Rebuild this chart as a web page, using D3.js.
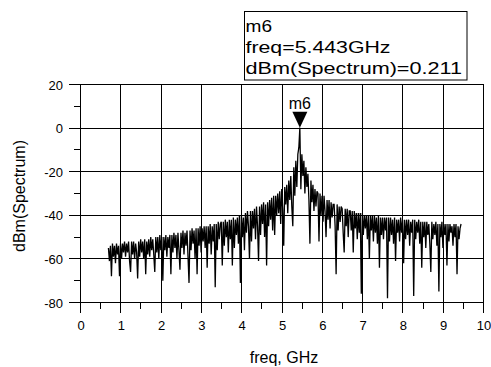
<!DOCTYPE html>
<html>
<head>
<meta charset="utf-8">
<script src="https://cdn.jsdelivr.net/npm/d3@7"></script>
<style>
  html, body { margin: 0; padding: 0; background: #fff; }
  svg { display: block; font-family: "Liberation Sans", Arial, sans-serif; }
</style>
</head>
<body>
<script>
// Axis ticks
const freqTicks = [0, 1, 2, 3, 4, 5, 6, 7, 8, 9, 10];
const freqMinor = [0.5, 1.5, 2.5, 3.5, 4.5, 5.5, 6.5, 7.5, 8.5, 9.5];
const dbTicks = [-80, -60, -40, -20, 0, 20];
const dbMinor = [-70, -50, -30, -10, 10];

// Spectrum sampling: first frequency and step (GHz)
const freqStart = 0.693;
const freqStep = 0.025;

// dBm(Spectrum) values, one per sample
const spectrum = [
  -55, -61, -54, -68, -53, -59, -54, -62,
  -53, -58, -54, -68, -53, -60, -53, -57,
  -52, -59, -53, -57, -52, -61, -66, -52,
  -58, -52, -60, -53, -57, -69, -52, -59,
  -51, -57, -52, -60, -51, -67, -52, -58,
  -51, -59, -50, -56, -51, -58, -66, -50,
  -57, -50, -60, -49, -56, -50, -70, -50,
  -56, -49, -59, -50, -55, -49, -67, -49,
  -57, -48, -55, -49, -60, -48, -56, -65,
  -48, -55, -47, -58, -48, -54, -47, -59,
  -71, -47, -56, -46, -53, -47, -60, -46,
  -67, -46, -54, -45, -57, -46, -52, -45,
  -55, -45, -64, -45, -53, -44, -58, -45,
  -52, -44, -73, -44, -56, -43, -51, -44,
  -43, -63, -43, -54, -42, -50, -43, -57,
  -42, -51, -42, -63, -41, -55, -42, -49,
  -41, -53, -40, -71, -40, -50, -41, -56,
  -39, -48, -38, -45, -60, -38, -52, -38,
  -46, -37, -51, -36, -45, -61, -36, -49,
  -35, -44, -34, -50, -35, -63, -34, -45,
  -33, -42, -32, -47, -31, -49, -31, -40,
  -30, -39, -29, -44, -28, -37, -54, -27,
  -35, -26, -39, -24, -33, -22, -36, -45,
  -18, -31, -15, -27, -12, -9, 0.211, -28,
  -12, -22, -15, -30, -18, -27, -21, -33,
  -53, -24, -34, -26, -38, -28, -36, -29,
  -30, -52, -30, -40, -31, -43, -31, -38,
  -50, -33, -42, -33, -46, -34, -41, -35,
  -35, -45, -67, -35, -47, -36, -43, -36,
  -37, -48, -57, -37, -45, -37, -50, -38,
  -38, -47, -38, -57, -38, -46, -39, -51,
  -39, -48, -39, -76, -39, -49, -40, -46,
  -40, -51, -40, -60, -40, -47, -40, -52,
  -40, -48, -41, -53, -40, -64, -41, -49,
  -41, -51, -41, -47, -41, -78, -41, -52,
  -41, -49, -42, -53, -41, -61, -42, -48,
  -42, -52, -41, -48, -42, -62, -42, -51,
  -42, -49, -42, -54, -43, -48, -42, -77,
  -42, -51, -43, -48, -42, -53, -43, -64,
  -43, -50, -43, -55, -43, -49, -44, -53,
  -66, -43, -51, -44, -49, -43, -54, -44,
  -75, -44, -50, -43, -55, -44, -49, -44,
  -63, -44, -52, -44, -48, -45, -54, -44,
  -50, -44, -67, -45, -51, -46, -44
];

// Marker
const markerName = "m6";
const markerFreq = 5.443;
const markerValue = 0.211;
const markerLines = ["m6", "freq=5.443GHz", "dBm(Spectrum)=0.211"];

const W = 491, H = 367;
const svg = d3.select("body").append("svg")
  .attr("width", W)
  .attr("height", H);

const x = d3.scaleLinear().domain([0, 10]).range([80.5, 483.5]);
const y = d3.scaleLinear().domain([-80, 20]).range([302.5, 84.5]);

// Grid
const grid = svg.append("g")
  .attr("stroke", "#000")
  .attr("stroke-width", 1)
  .attr("shape-rendering", "crispEdges");

grid.selectAll(".vgrid")
  .data(freqTicks)
  .enter()
  .append("line")
  .attr("x1", d => x(d)).attr("x2", d => x(d))
  .attr("y1", y(20)).attr("y2", y(-80) + 10);

grid.selectAll(".hgrid")
  .data(dbTicks)
  .enter()
  .append("line")
  .attr("x1", x(0) - 12).attr("x2", x(10))
  .attr("y1", d => y(d)).attr("y2", d => y(d));

// Minor ticks
grid.selectAll(".xminor")
  .data(freqMinor)
  .enter()
  .append("line")
  .attr("x1", d => x(d)).attr("x2", d => x(d))
  .attr("y1", y(-80)).attr("y2", y(-80) + 6);

grid.selectAll(".yminor")
  .data(dbMinor)
  .enter()
  .append("line")
  .attr("x1", x(0) - 7).attr("x2", x(0))
  .attr("y1", d => y(d)).attr("y2", d => y(d));

// Axes (labels only, lines come from the grid)
const xAxis = svg.append("g")
  .attr("transform", `translate(0,${y(-80)})`)
  .call(d3.axisBottom(x).tickValues(freqTicks).tickSize(0).tickFormat(d => String(d)));
xAxis.select(".domain").remove();
xAxis.selectAll("text")
  .attr("y", 27.5)
  .attr("dy", null)
  .attr("fill", "#000")
  .style("font-size", "13px")
  .style("font-family", "Liberation Sans, Arial, sans-serif");

const yAxis = svg.append("g")
  .attr("transform", `translate(${x(0)},0)`)
  .call(d3.axisLeft(y).tickValues(dbTicks).tickSize(0).tickFormat(d => String(d)));
yAxis.select(".domain").remove();
yAxis.selectAll("text")
  .attr("x", -17.5)
  .attr("dy", "0.36em")
  .attr("fill", "#000")
  .style("font-size", "13px")
  .style("font-family", "Liberation Sans, Arial, sans-serif");

// Axis titles
svg.append("text")
  .attr("x", 284)
  .attr("y", 362.5)
  .attr("text-anchor", "middle")
  .style("font-size", "16px")
  .text("freq, GHz");

svg.append("text")
  .attr("transform", `translate(24.5,196) rotate(-90)`)
  .attr("text-anchor", "middle")
  .style("font-size", "16px")
  .text("dBm(Spectrum)");

// Spectrum trace
const line = d3.line()
  .x((d, i) => x(freqStart + i * freqStep))
  .y(d => y(d));

svg.append("path")
  .datum(spectrum)
  .attr("d", line)
  .attr("fill", "none")
  .attr("stroke", "#000")
  .attr("stroke-width", 1.3)
  .attr("stroke-linejoin", "miter");

// Marker triangle and label
const mx = x(markerFreq), my = y(markerValue);
svg.append("path")
  .attr("d", `M${mx - 7.5},${my - 16} L${mx + 7.5},${my - 16} L${mx},${my} Z`)
  .attr("fill", "#000");

svg.append("text")
  .attr("x", mx)
  .attr("y", my - 18.5)
  .attr("text-anchor", "middle")
  .style("font-size", "16px")
  .text(markerName);

// Marker readout box
svg.append("rect")
  .attr("x", 244.5)
  .attr("y", 11.5)
  .attr("width", 222.5)
  .attr("height", 68.5)
  .attr("fill", "#fff")
  .attr("stroke", "#000")
  .attr("stroke-width", 1);

const boxWidths = [26.5, 145, 216.5];
const boxBaselines = [31.5, 53, 73.5];
svg.selectAll(".readout")
  .data(markerLines)
  .enter()
  .append("text")
  .attr("x", 245.5)
  .attr("y", (d, i) => boxBaselines[i])
  .attr("textLength", (d, i) => boxWidths[i])
  .attr("lengthAdjust", "spacingAndGlyphs")
  .style("font-size", "17px")
  .text(d => d);
</script>
</body>
</html>
